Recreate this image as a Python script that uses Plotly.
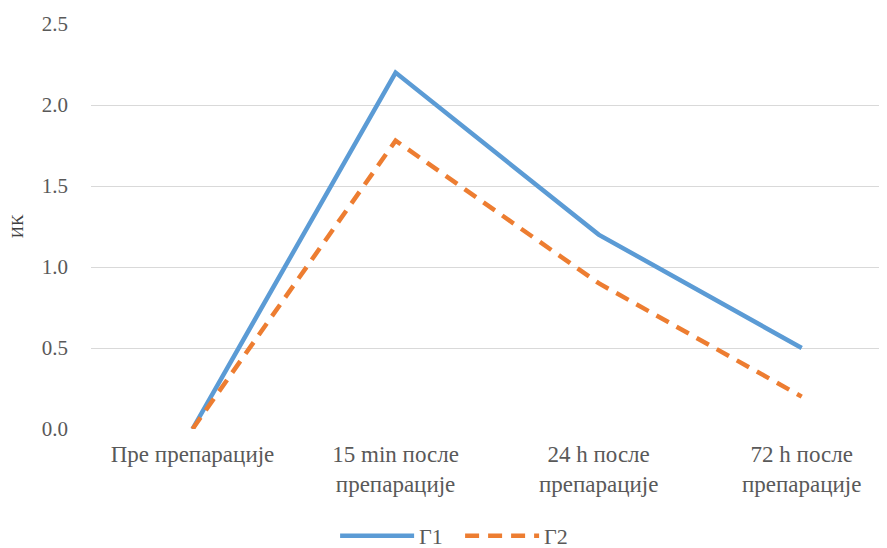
import plotly.graph_objects as go

categories = ["Пре препарације", "15 min после<br>препарације", "24 h после<br>препарације", "72 h после<br>препарације"]
g1_values = [0, 2.2, 1.2, 0.5]
g2_values = [0, 1.78, 0.9, 0.2]
y_ticks = [0.0, 0.5, 1.0, 1.5, 2.0, 2.5]

font_family = "Times New Roman, Liberation Serif, DejaVu Serif, serif"
text_color = "#595959"

fig = go.Figure()
fig.add_trace(go.Scatter(x=list(range(len(categories))), y=g1_values, mode="lines", name="Г1",
                         line=dict(color="#5B9BD5", width=4.5)))
fig.add_trace(go.Scatter(x=list(range(len(categories))), y=g2_values, mode="lines", name="Г2",
                         line=dict(color="#ED7D31", width=4.5, dash="14px,9px")))

# page body has an 8px default margin; sizes below compensate for it
fig.update_layout(
    width=879, height=548,
    margin=dict(l=83, r=0, t=16, b=127, autoexpand=False),
    plot_bgcolor="white", paper_bgcolor="white",
    font=dict(family=font_family, size=21, color=text_color),
    showlegend=True,
    legend=dict(orientation="h", x=0.4637, xanchor="center", y=-0.264, yanchor="middle",
                font=dict(family=font_family, size=22, color=text_color), itemwidth=74,
                entrywidth=36, entrywidthmode="pixels", traceorder="normal"),
    xaxis=dict(tickmode="array", tickvals=list(range(len(categories))), ticktext=categories,
               range=[-0.5, 3.42], showgrid=False, zeroline=False, showline=False, automargin=False,
               ticks="", ticklabelstandoff=9,
               tickfont=dict(family=font_family, size=23, color=text_color)),
    yaxis=dict(range=[0, 2.5], tickmode="array", tickvals=y_ticks,
               ticktext=[f"{v:.1f}" for v in y_ticks], automargin=False,
               showgrid=True, gridcolor="#d9d9d9", gridwidth=1, zeroline=False, showline=False,
               ticks="", ticklabelstandoff=22,
               tickfont=dict(family=font_family, size=21, color=text_color)),
)
fig.update_yaxes(title=dict(text="ИК", standoff=26,
                            font=dict(family=font_family, size=17, color="#404040")))

fig.write_html("out.html")
